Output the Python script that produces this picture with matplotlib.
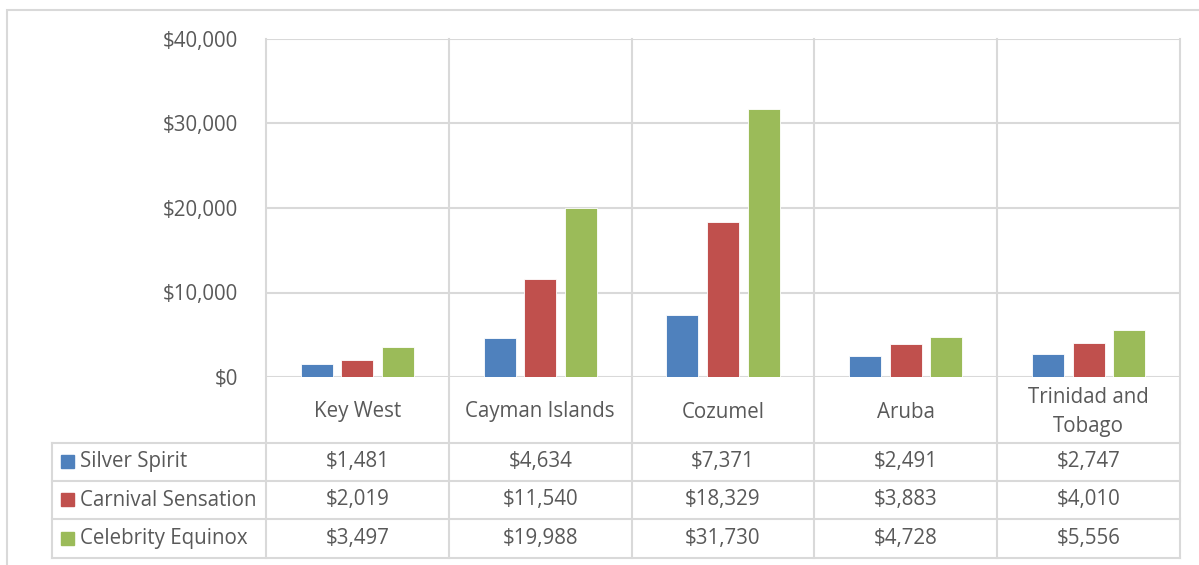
import numpy as np
import matplotlib
matplotlib.use('Agg')
import matplotlib.pyplot as plt

categories = ['Key West', 'Cayman Islands', 'Cozumel', 'Aruba', 'Trinidad and\nTobago']
series = ['Silver Spirit', 'Carnival Sensation', 'Celebrity Equinox']
silver_spirit = [1481, 4634, 7371, 2491, 2747]
carnival_sensation = [2019, 11540, 18329, 3883, 4010]
celebrity_equinox = [3497, 19988, 31730, 4728, 5556]
y_ticks = [0, 10000, 20000, 30000, 40000]

colors = ['#4F81BD', '#C0504D', '#9BBB59']
grid_c = '#D9D9D9'
text_c = '#595959'
fs = 14.8
plt.rcParams['font.family'] = ['Open Sans', 'DejaVu Sans']

W, H = 1199, 565
fig = plt.figure(figsize=(W / 100, H / 100), dpi=100)

def px_axes(x0, y0, x1, y1, **kw):
    return fig.add_axes([x0 / W, 1 - y1 / H, (x1 - x0) / W, (y1 - y0) / H], **kw)

# outer chart border
bg = px_axes(0, 0, W, H)
bg.set_xlim(0, W)
bg.set_ylim(H, 0)
bg.axis('off')
bg.plot([7, 7, W + 5], [H + 5, 10, 10], color=grid_c, lw=1.5, solid_joinstyle='miter')

plot_l, plot_r, plot_t, plot_b = 266, 1180, 39, 377
ax = px_axes(plot_l, plot_t, plot_r, plot_b)
n = len(categories)
ax.set_xlim(0, n)
ax.set_ylim(0, 40000)

values = [silver_spirit, carnival_sensation, celebrity_equinox]
x = np.arange(n) + 0.5
bw = 0.175
step = 0.2225
for i, vals in enumerate(values):
    ax.bar(x + (i - 1) * step, vals, width=bw, color=colors[i],
           edgecolor='white', linewidth=0.6, zorder=3)

ax.set_yticks(y_ticks)
ax.set_yticklabels(['${:,}'.format(v) for v in y_ticks], fontsize=fs, color=text_c)
ax.tick_params(axis='y', length=0, pad=20)
ax.set_xticks([])
for v in y_ticks:
    ax.axhline(v, color=grid_c, lw=1.5, zorder=1)
for s in ax.spines.values():
    s.set_visible(False)

# data table below the plot
tab = px_axes(0, 0, W, H, zorder=0)
tab.set_xlim(0, W)
tab.set_ylim(H, 0)
tab.axis('off')

col_w = (plot_r - plot_l) / n
tab_l = 52
rows_y = [377, 443, 481, 519, 558]
# vertical lines
for k in range(n + 1):
    xv = plot_l + k * col_w
    tab.plot([xv, xv], [plot_t, rows_y[-1]], color=grid_c, lw=1.5)
tab.plot([tab_l, tab_l], [rows_y[1], rows_y[-1]], color=grid_c, lw=1.5)
for yy in rows_y[1:]:
    tab.plot([tab_l, plot_r], [yy, yy], color=grid_c, lw=1.5)

for k, cat in enumerate(categories):
    cx = plot_l + (k + 0.5) * col_w
    tab.text(cx, (rows_y[0] + rows_y[1]) / 2 + 2, cat, ha='center', va='center',
             fontsize=fs, color=text_c, linespacing=1.45)
    for r, vals in enumerate(values):
        cy = (rows_y[r + 1] + rows_y[r + 2]) / 2
        tab.text(cx, cy, '${:,}'.format(vals[k]), ha='center', va='center',
                 fontsize=fs, color=text_c)

for r, name in enumerate(series):
    cy = (rows_y[r + 1] + rows_y[r + 2]) / 2
    tab.add_patch(plt.Rectangle((61, cy - 7), 13, 13, color=colors[r]))
    tab.text(80, cy, name, ha='left', va='center', fontsize=fs, color=text_c)

fig.savefig('out.png', dpi=100)
